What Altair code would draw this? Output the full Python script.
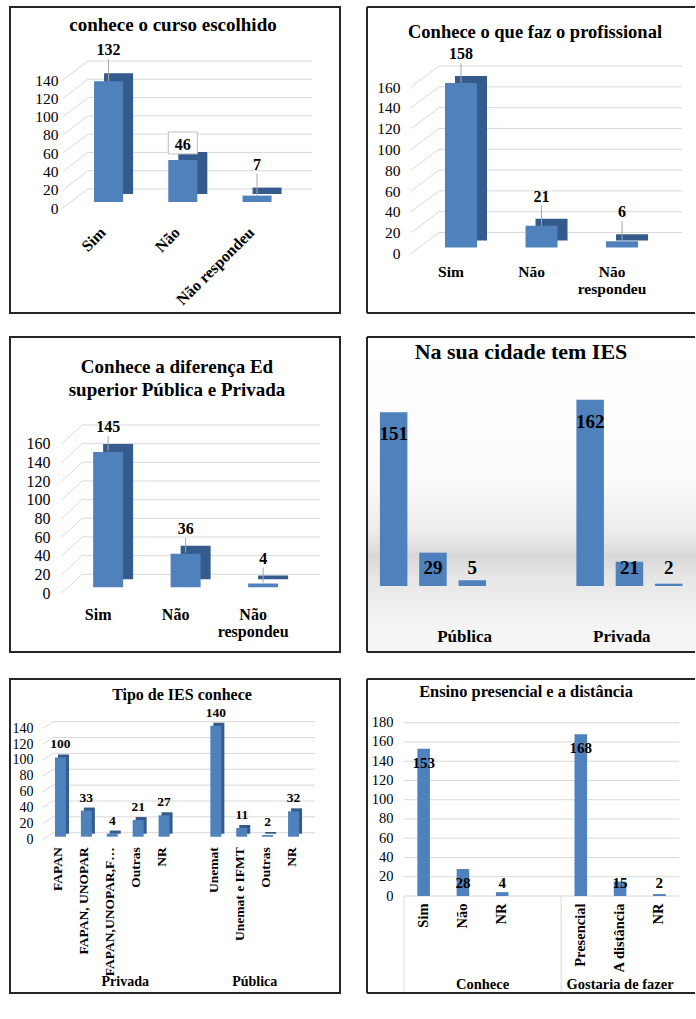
import altair as alt
import pandas as pd

FONT = "Liberation Serif"
BAR = "#4f81bd"
BAR_SIDE = "#345b8c"
GRID = "#d9d9d9"
LEADER = "#a6a6a6"
FRAME = "#262626"
INK = "#000000"

# ---------------- data ----------------
curso_cats = ["Sim", "Não", "Não respondeu"]
curso_vals = [132, 46, 7]

prof_cats = ["Sim", "Não", "Não respondeu"]
prof_vals = [158, 21, 6]

dif_cats = ["Sim", "Não", "Não respondeu"]
dif_vals = [145, 36, 4]

cidade_answers = ["Sim", "Não", "NR"]
cidade_publica = [151, 29, 5]
cidade_privada = [162, 21, 2]

tipo_privada_cats = ["FAPAN", "FAPAN, UNOPAR", "FAPAN,UNOPAR,F…", "Outras", "NR"]
tipo_privada_vals = [100, 33, 4, 21, 27]
tipo_publica_cats = ["Unemat", "Unemat e IFMT", "Outras", "NR"]
tipo_publica_vals = [140, 11, 2, 32]

ensino_conhece_cats = ["Sim", "Não", "NR"]
ensino_conhece_vals = [153, 28, 4]
ensino_gostaria_cats = ["Presencial", "A distância", "NR"]
ensino_gostaria_vals = [168, 15, 2]

one = pd.DataFrame({"k": [0]})


def simple_slots(cats, vals):
    rows = [{"key": c, "v": v} for c, v in zip(cats, vals)]
    return list(cats), rows, []


def grouped_slots(groups):
    """groups: (name, cats, vals, blank_before, blank_after)"""
    domain, rows, spans = [], [], []
    for g, cats, vals, before, after in groups:
        span = []
        if before:
            span.append(f"{g}|")
        for c, v in zip(cats, vals):
            k = f"{g}|{c}"
            span.append(k)
            rows.append({"key": k, "v": v})
        if after:
            span.append(f"{g}|")
        domain += span
        spans.append((g, span))
    return domain, rows, spans


def text_at(txt, x, y, size, weight="bold"):
    return alt.Chart(one).mark_text(
        text=txt, font=FONT, fontSize=size, fontWeight=weight, color=INK,
        align="center", baseline="middle",
    ).encode(x=alt.value(x), y=alt.value(y))


def panel(c):
    # the view is the whole framed box; the plot area sits inside it
    fx1, fy1, fx2, fy2 = c["frame"]
    px, py, pw, ph = c["plot"]
    W, H = fx2 - fx1, fy2 - fy1
    ox, oy = px - fx1, py - fy1
    base_y = oy + ph
    domain, rows, spans = c["slots"]
    df = pd.DataFrame(rows)
    pi, po = c["pad"]
    step = pw / (len(domain) - pi + 2 * po)

    xaxis = alt.Axis(
        domain=False, ticks=False, tickSize=0, grid=False, labelOverlap=False,
        labelLimit=0, labelFont=FONT, labelColor=INK, labelFontWeight="bold",
        offset=-(H - base_y), **c["xaxis"],
    )
    xscale = alt.Scale(domain=domain, range=[ox, ox + pw], paddingInner=pi,
                       paddingOuter=po, align=c.get("align", 0.5))
    X = alt.X("key:N", scale=xscale, axis=xaxis, title=None)
    yscale = alt.Scale(domain=[0, c["top"]], range=[base_y, oy], nice=False, zero=True)
    if c.get("yaxis") is not None:
        yaxis = alt.Axis(
            domain=False, ticks=False, tickSize=0, grid=False,
            labelFont=FONT, labelColor=INK, labelFontWeight="normal",
            offset=-ox, **c["yaxis"],
        )
    else:
        yaxis = None

    def Y(f):
        return alt.Y(f"{f}:Q", scale=yscale, axis=yaxis, title=None)

    base = alt.Chart(df)
    layers = []

    # panel background
    if c.get("bg"):
        layers.append(alt.Chart(one).mark_rect(color=c["bg"]).encode(
            x=alt.value(1), x2=alt.value(W), y=alt.value(1), y2=alt.value(H - 1)))

    # horizontal grid across the plot area, and perspective floor lines
    if c.get("yaxis") is not None:
        tdf = pd.DataFrame({"t": c["yaxis"]["values"]})
        layers.append(alt.Chart(tdf).mark_rule(color=GRID, strokeWidth=1).encode(
            x=alt.value(ox), x2=alt.value(ox + pw), y=Y("t")))
        if c.get("diag"):
            dx, dy = c["diag"]
            layers.append(alt.Chart(tdf).mark_rule(
                color=GRID, strokeWidth=1, yOffset=dy, y2Offset=0).encode(
                x=alt.value(ox + dx), x2=alt.value(ox), y=Y("t"), y2="t:Q"))

    front = 0
    if c.get("depth"):
        front, sdx, sdy = c["depth"]
        layers.append(base.mark_bar(color=BAR_SIDE, xOffset=sdx, yOffset=sdy)
                      .encode(x=X, y=Y("v")))
    layers.append(base.mark_bar(color=BAR, yOffset=front).encode(x=X, y=Y("v")))

    lab = c["label"]
    boxed = lab.get("boxed")
    plain = base if boxed is None else base.transform_filter(alt.datum.key != boxed)
    if lab.get("leader"):
        a, b = lab["leader"]
        layers.append(plain.mark_rule(color=LEADER, strokeWidth=1, yOffset=a, y2Offset=b)
                      .encode(x=X, y=Y("v"), y2="v:Q"))
    if boxed is not None:
        bdf = base.transform_filter(alt.datum.key == boxed)
        b1, b2 = lab["box"]
        layers.append(bdf.mark_rect(fill="white", stroke="#bfbfbf", strokeWidth=1,
                                    yOffset=b1, y2Offset=b2)
                      .encode(x=X, y=Y("v"), y2="v:Q"))
        layers.append(bdf.mark_text(font=FONT, fontSize=lab["size"], fontWeight="bold",
                                    color=INK, baseline="middle", yOffset=lab["box_text"])
                      .encode(x=X, y=Y("v"), text="v:Q"))
    if lab.get("floor") is not None:
        layers.append(plain.transform_calculate(ly=f"max(datum.v, {lab['floor']})")
                      .mark_text(font=FONT, fontSize=lab["size"], fontWeight="bold",
                                 color=INK, baseline="middle", yOffset=lab["offset"])
                      .encode(x=X, y=Y("ly"), text="v:Q"))
    else:
        layers.append(plain.mark_text(font=FONT, fontSize=lab["size"], fontWeight="bold",
                                      color=INK, baseline="middle", yOffset=lab["offset"])
                      .encode(x=X, y=Y("v"), text="v:Q"))

    # group dividers below the category axis
    if c.get("dividers"):
        for g, span in spans:
            layers.append(alt.Chart(pd.DataFrame({"key": [span[0]]})).mark_rule(
                color=GRID, strokeWidth=1, xOffset=-step / 2).encode(
                x=X, y=alt.value(base_y), y2=alt.value(H - 1)))

    # group captions centred under each group of categories
    if c.get("groups"):
        gy, gsize, gdx = c["groups"]
        for g, span in spans:
            n = len(span)
            anchor = span[n // 2]
            off = (-step / 2 if n % 2 == 0 else 0) + gdx
            layers.append(alt.Chart(pd.DataFrame({"key": [anchor]})).mark_text(
                text=g, font=FONT, fontSize=gsize, fontWeight="bold", color=INK,
                baseline="middle", xOffset=off).encode(x=X, y=alt.value(gy - fy1)))

    for txt, tx, ty, ts in c["titles"]:
        layers.append(text_at(txt, tx - fx1, ty - fy1, ts))

    # frame
    if c.get("open_right"):
        for x1, y1, x2, y2 in [(0, 0, W - 1, 0), (0, 0, 0, H), (0, H, W - 1, H)]:
            layers.append(alt.Chart(one).mark_rule(color=FRAME, strokeWidth=2)
                          .encode(x=alt.value(x1), x2=alt.value(x2),
                                  y=alt.value(y1), y2=alt.value(y2)))
    else:
        layers.append(alt.Chart(one).mark_rect(fillOpacity=0, stroke=FRAME, strokeWidth=2)
                      .encode(x=alt.value(0), x2=alt.value(W),
                              y=alt.value(0), y2=alt.value(H)))

    return alt.layer(*layers).properties(width=W, height=H)


ticks140 = list(range(0, 141, 20))
ticks160 = list(range(0, 161, 20))
ticks180 = list(range(0, 181, 20))

p1 = panel(dict(
    frame=(10, 7, 340, 313), plot=(88, 61, 224, 128), top=140,
    slots=simple_slots(curso_cats, curso_vals), pad=(0.609, 0.313), align=0.13,
    depth=(13, 10, 5), diag=(-25, 19),
    yaxis=dict(values=ticks140, labelOffset=19, labelPadding=30, labelFontSize=15.5),
    xaxis=dict(labelAngle=315, labelAlign="right", labelBaseline="top",
               labelPadding=35, labelOffset=-11, labelFontSize=16),
    label=dict(offset=-18, size=16, leader=(-9, 13), boxed="Não", box=(-15, 7), box_text=-2),
    titles=[("conhece o curso escolhido", 173, 25, 19)],
))

p2 = panel(dict(
    frame=(367, 7, 696, 313), plot=(439, 66, 243, 166.5), top=160, open_right=True,
    slots=simple_slots(prof_cats, prof_vals), pad=(0.6025, 0.31), align=0.12,
    depth=(15, 10, 8), diag=(-28, 21),
    yaxis=dict(values=ticks160, labelOffset=21, labelPadding=39, labelFontSize=15.5),
    xaxis=dict(labelAngle=0, labelBaseline="top", labelPadding=32, labelOffset=-10,
               labelFontSize=15.5, labelLineHeight=17, labelExpr="split(datum.value, ' ')"),
    label=dict(offset=-14, size=16, leader=(-5, 15)),
    titles=[("Conhece o que faz o profissional", 535, 32, 18.5)],
))

p3 = panel(dict(
    frame=(10, 337, 340, 652), plot=(82, 425, 238, 149.3), top=160,
    slots=simple_slots(dif_cats, dif_vals), pad=(0.613, 0.342), align=0.21,
    depth=(13, 10, 5), diag=(-20, 18.7),
    yaxis=dict(values=ticks160, labelOffset=18.7, labelPadding=32, labelFontSize=16),
    xaxis=dict(labelAngle=0, labelBaseline="top", labelPadding=32, labelOffset=-10,
               labelFontSize=16, labelLineHeight=17, labelExpr="split(datum.value, ' ')"),
    label=dict(offset=-12, size=16, leader=(-3, 12)),
    titles=[("Conhece a diferença Ed", 177, 367, 19),
            ("superior Pública e Privada", 177, 390, 19)],
))

cidade_bg = alt.LinearGradient(
    gradient="linear", x1=0, x2=0, y1=0, y2=1,
    stops=[alt.GradientStop(offset=0, color="#ffffff"),
           alt.GradientStop(offset=0.45, color="#fbfbfb"),
           alt.GradientStop(offset=0.62, color="#ececec"),
           alt.GradientStop(offset=0.70, color="#d8d8d8"),
           alt.GradientStop(offset=0.75, color="#e4e4e4"),
           alt.GradientStop(offset=0.88, color="#f2f2f2"),
           alt.GradientStop(offset=1, color="#f6f6f6")])

p4 = panel(dict(
    frame=(367, 337, 696, 652), plot=(374, 390.5, 314.4, 195.5), top=170, open_right=True,
    slots=grouped_slots([("Pública", cidade_answers, cidade_publica, False, True),
                         ("Privada", cidade_answers, cidade_privada, True, False)]),
    pad=(0.3, 0.15), bg=cidade_bg,
    yaxis=None,
    xaxis=dict(labelAngle=0, labelBaseline="top", labelPadding=12, labelFontSize=17,
               labelExpr="split(datum.value, '|')[1]"),
    label=dict(offset=22, size=19, floor=35),
    groups=(637, 17, 12),
    titles=[("Na sua cidade tem IES", 521, 352, 22)],
))

p5 = panel(dict(
    frame=(10, 679, 340, 993), plot=(53, 721.7, 262, 111), top=140,
    slots=grouped_slots([("Privada", tipo_privada_cats, tipo_privada_vals, False, True),
                         ("Pública", tipo_publica_cats, tipo_publica_vals, False, False)]),
    pad=(0.575, 0.346), align=0.11,
    depth=(4, 3, 1), diag=(-10, 6.5),
    yaxis=dict(values=ticks140, labelOffset=6.5, labelPadding=20, labelFontSize=14),
    xaxis=dict(labelAngle=270, labelAlign="right", labelBaseline="middle",
               labelPadding=14, labelOffset=-2, labelFontSize=13.5,
               labelExpr="split(datum.value, '|')[1]"),
    label=dict(offset=-9, size=13.5),
    groups=(982, 14, 0),
    titles=[("Tipo de IES conhece", 182, 695, 16)],
))

p6 = panel(dict(
    frame=(367, 679, 696, 993), plot=(404, 722.7, 275, 173.3), top=180, open_right=True,
    slots=grouped_slots([("Conhece", ensino_conhece_cats, ensino_conhece_vals, False, True),
                         ("Gostaria de fazer", ensino_gostaria_cats, ensino_gostaria_vals, False, False)]),
    pad=(0.68, 0.34),
    yaxis=dict(values=ticks180, labelPadding=11, labelFontSize=14.5),
    xaxis=dict(labelAngle=270, labelAlign="right", labelBaseline="middle",
               labelPadding=7, labelFontSize=14.5,
               labelExpr="split(datum.value, '|')[1]"),
    label=dict(offset=14, size=15, floor=28),
    dividers=True,
    groups=(985, 14.5, 0),
    titles=[("Ensino presencial e a distância", 526, 692, 16.4)],
))

row1 = alt.hconcat(p1, p2, spacing=25)
row2 = alt.hconcat(p3, p4, spacing=25)
row3 = alt.hconcat(p5, p6, spacing=25)

chart = alt.vconcat(
    row1, alt.vconcat(row2, row3, spacing=25), spacing=22
).properties(
    padding={"left": 9, "top": 6, "right": 0, "bottom": 5},
    background="white",
).configure_view(strokeWidth=0)

chart.save("out.html", embed_options={"renderer": "svg", "actions": False})
